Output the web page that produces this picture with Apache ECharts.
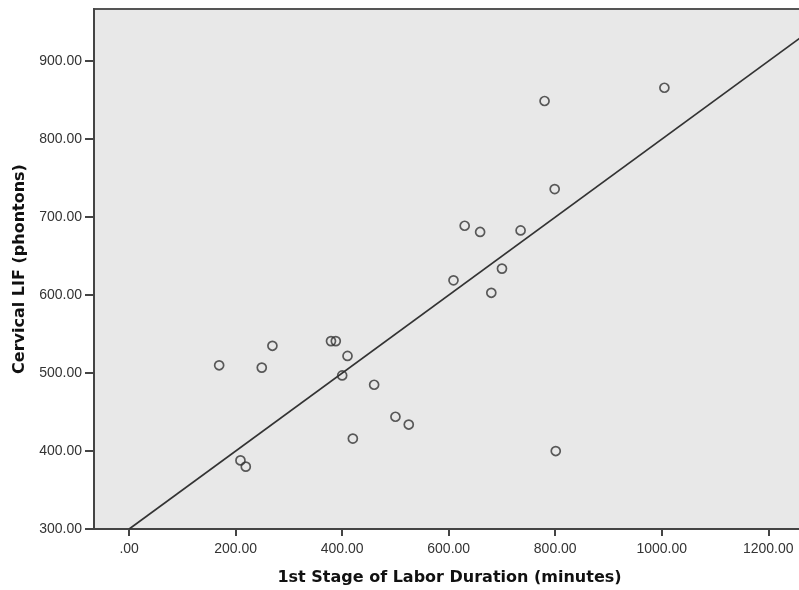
<!DOCTYPE html>
<html>
<head>
<meta charset="utf-8">
<script src="https://cdn.jsdelivr.net/npm/echarts@6/dist/echarts.min.js"></script>
<style>
  html, body { margin: 0; padding: 0; background: #ffffff; }
  #chart { width: 799px; height: 590px; }
</style>
</head>
<body>
<div id="chart"></div>
<script>
// ---- data ----
var laborDuration = [169, 209, 219, 249, 269, 379, 388, 410, 400, 420, 460, 500, 525,
                     609, 630, 659, 680, 700, 735, 780, 799, 801, 1005];
var cervicalLIF   = [510, 388, 380, 507, 535, 541, 541, 522, 497, 416, 485, 444, 434,
                     619, 689, 681, 603, 634, 683, 849, 736, 400, 866];
var xTicks = [0, 200, 400, 600, 800, 1000, 1200];
var yTicks = [300, 400, 500, 600, 700, 800, 900];
var fitIntercept = 300;
var fitSlope = 0.5;
var xRange = [-66, 1269];
var yRange = [300, 967];

var points = laborDuration.map(function (x, i) { return [x, cervicalLIF[i]]; });
var fitLine = [[0, fitIntercept + fitSlope * 0], [xRange[1], fitIntercept + fitSlope * xRange[1]]];

function fmt(v) {
  var s = Number(v).toFixed(2);
  return s.indexOf('0.') === 0 ? s.slice(1) : s;
}

var chart = echarts.init(document.getElementById('chart'), null, { renderer: 'canvas' });
chart.setOption({
  animation: false,
  backgroundColor: '#ffffff',
  grid: {
    left: 94, top: 9, width: 711, bottom: 61,
    outerBoundsMode: 'none', containLabel: false,
    show: true, backgroundColor: '#e8e8e8', borderColor: '#555555', borderWidth: 2
  },
  xAxis: {
    type: 'value', min: xRange[0], max: xRange[1],
    name: '1st Stage of Labor Duration (minutes)',
    nameLocation: 'middle', nameGap: 41,
    nameTextStyle: { fontFamily: 'DejaVu Sans', fontWeight: 'bold', fontSize: 16, color: '#111111' },
    axisLine: { show: true, onZero: false, lineStyle: { color: '#444444', width: 2 } },
    axisTick: { show: true, length: 7, customValues: xTicks, lineStyle: { color: '#444444', width: 2 } },
    axisLabel: { customValues: xTicks, formatter: fmt, margin: 13,
      fontFamily: 'Liberation Sans', fontSize: 14, color: '#333333' },
    splitLine: { show: false }
  },
  yAxis: {
    type: 'value', min: yRange[0], max: yRange[1],
    name: 'Cervical LIF (phontons)',
    nameLocation: 'middle', nameGap: 62,
    nameTextStyle: { fontFamily: 'DejaVu Sans', fontWeight: 'bold', fontSize: 16, color: '#111111' },
    axisLine: { show: true, onZero: false, lineStyle: { color: '#444444', width: 2 } },
    axisTick: { show: true, length: 9, customValues: yTicks, lineStyle: { color: '#444444', width: 2 } },
    axisLabel: { customValues: yTicks, formatter: fmt, margin: 12,
      fontFamily: 'Liberation Sans', fontSize: 14, color: '#333333' },
    splitLine: { show: false }
  },
  series: [
    {
      type: 'line', data: fitLine, symbol: 'none', silent: true,
      lineStyle: { color: '#333333', width: 1.6 }, z: 2
    },
    {
      type: 'scatter', data: points, symbol: 'circle', symbolSize: 9,
      itemStyle: { color: 'rgba(0,0,0,0)', borderColor: '#333333', borderWidth: 1.7 }, z: 3
    }
  ]
});
</script>
</body>
</html>
